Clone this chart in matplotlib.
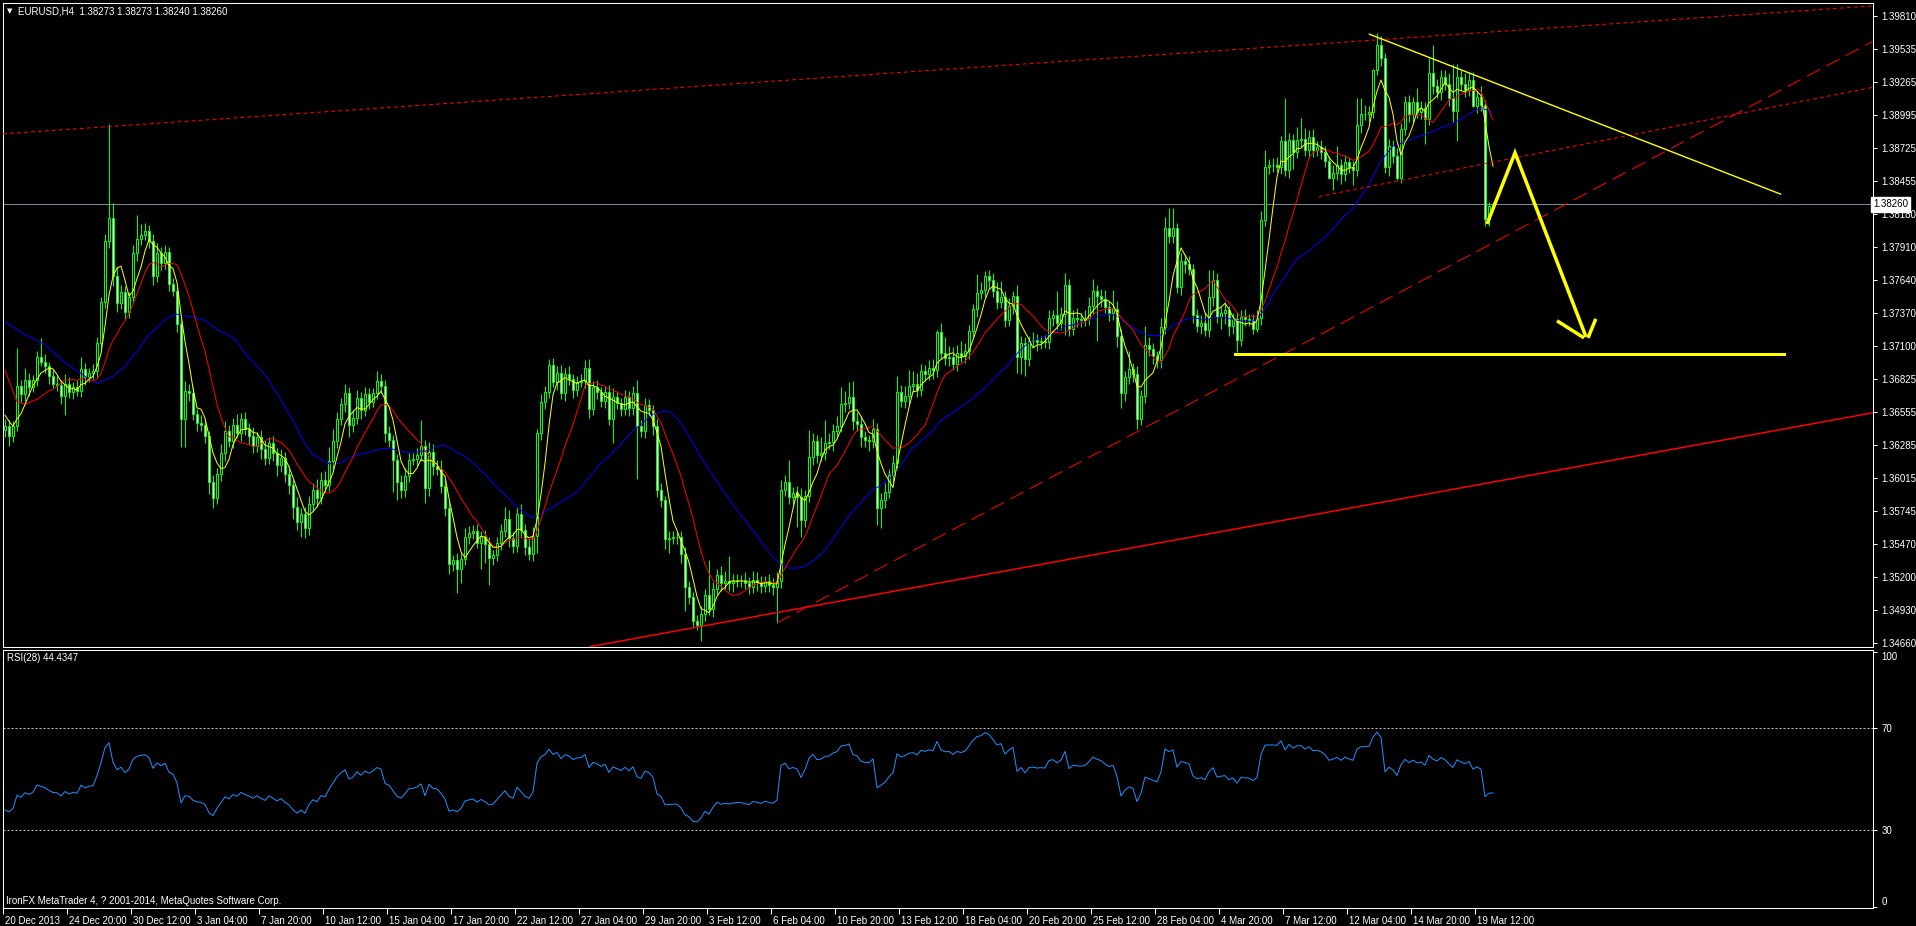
import numpy as np
import pandas as pd
import matplotlib
matplotlib.use("Agg")
import matplotlib.pyplot as plt
import matplotlib.transforms as mtransforms

# EURUSD H4 closes, in pips above 1.3400 (one value per bar)
closes = [
    244, 236, 244, 277, 270, 282, 276, 282, 301, 297,
    293, 285, 279, 278, 269, 279, 272, 276, 273, 291,
    284, 288, 289, 312, 346, 396, 415, 367, 345, 354,
    338, 350, 386, 398, 401, 404, 396, 367, 386, 378,
    387, 361, 355, 328, 250, 273, 271, 254, 247, 245,
    236, 198, 185, 205, 222, 240, 232, 245, 238, 250,
    242, 236, 228, 235, 225, 218, 230, 222, 212, 218,
    205, 196, 178, 165, 172, 160, 180, 192, 185, 200,
    196, 215, 232, 250, 262, 271, 245, 251, 267, 257,
    270, 264, 271, 281, 277, 238, 233, 216, 198, 192,
    203, 216, 217, 220, 228, 193, 223, 211, 209, 195,
    177, 131, 134, 127, 135, 153, 156, 158, 148, 154,
    147, 136, 138, 148, 158, 168, 152, 146, 172, 159,
    145, 139, 154, 238, 264, 272, 294, 280, 288, 271,
    287, 283, 274, 280, 281, 292, 258, 276, 272, 265,
    272, 250, 268, 263, 258, 268, 259, 271, 244, 240,
    261, 257, 244, 192, 183, 151, 152, 153, 153, 139,
    112, 104, 84, 81, 90, 105, 94, 110, 122, 115,
    117, 115, 117, 118, 118, 115, 112, 118, 116, 113,
    117, 114, 112, 117, 192, 198, 186, 189, 186, 167,
    187, 219, 232, 220, 222, 230, 231, 240, 244, 262,
    263, 268, 248, 246, 235, 233, 232, 242, 177, 183,
    190, 204, 214, 272, 265, 269, 277, 279, 274, 289,
    287, 292, 290, 321, 304, 300, 301, 295, 304, 302,
    306, 322, 340, 353, 356, 367, 364, 355, 346, 350,
    331, 343, 351, 301, 312, 299, 314, 315, 313, 314,
    313, 333, 335, 329, 336, 360, 324, 333, 332, 331,
    333, 343, 355, 351, 348, 342, 337, 340, 318, 271,
    284, 291, 287, 250, 269, 311, 307, 302, 298, 325,
    407, 400, 407, 358, 380, 377, 373, 335, 326, 329,
    323, 350, 364, 334, 337, 339, 326, 332, 315, 334,
    332, 331, 324, 333, 413, 457, 458, 458, 457, 478,
    454, 479, 469, 479, 480, 471, 481, 471, 473, 469,
    462, 448, 452, 458, 451, 461, 457, 454, 491, 500,
    500, 502, 536, 557, 546, 457, 474, 466, 448, 488,
    510, 500, 510, 502, 505, 496, 534, 523, 518, 531,
    525, 513, 503, 531, 525, 520, 528, 507, 514, 508,
    414, 425, 426,
]
# wick lengths in pips above / below the body
upper_wick = [
    6, 5, 4, 31, 5, 10, 6, 4, 5, 15,
    6, 4, 5, 6, 4, 8, 5, 4, 6, 10,
    5, 4, 6, 5, 4, 6, 77, 12, 8, 6,
    5, 4, 7, 19, 9, 7, 5, 6, 8, 5,
    6, 4, 5, 6, 5, 8, 6, 5, 4, 6,
    5, 4, 6, 5, 7, 8, 5, 6, 9, 5,
    6, 5, 7, 4, 6, 8, 5, 6, 4, 7,
    5, 6, 4, 8, 5, 6, 7, 5, 9, 6,
    7, 12, 10, 6, 5, 8, 5, 6, 7, 5,
    6, 5, 4, 8, 6, 5, 6, 4, 5, 6,
    7, 6, 5, 6, 21, 5, 8, 6, 5, 7,
    6, 5, 4, 6, 5, 7, 6, 5, 6, 4,
    5, 6, 4, 5, 6, 10, 7, 5, 6, 8,
    5, 6, 7, 4, 6, 5, 5, 6, 5, 6,
    5, 6, 4, 5, 6, 6, 7, 5, 6, 4,
    5, 6, 7, 5, 4, 6, 5, 6, 11, 5,
    6, 5, 4, 6, 5, 4, 6, 5, 4, 5,
    6, 5, 4, 5, 6, 5, 29, 6, 5, 7,
    8, 20, 6, 5, 4, 6, 5, 7, 6, 5,
    4, 6, 5, 7, 8, 6, 18, 5, 6, 7,
    5, 22, 6, 5, 13, 19, 7, 6, 8, 14,
    10, 12, 13, 8, 6, 5, 4, 8, 5, 6,
    7, 5, 6, 13, 6, 8, 13, 10, 9, 6,
    5, 6, 7, 2, 8, 13, 9, 8, 7, 10,
    6, 5, 4, 16, 6, 4, 5, 6, 7, 13,
    5, 6, 4, 9, 6, 5, 4, 6, 5, 4,
    5, 6, 4, 20, 6, 10, 5, 6, 8, 5,
    6, 7, 10, 5, 6, 8, 5, 16, 7, 6,
    5, 15, 5, 6, 5, 15, 6, 5, 4, 8,
    9, 16, 16, 4, 6, 5, 7, 4, 5, 6,
    8, 22, 8, 6, 5, 7, 4, 5, 6, 5,
    6, 4, 5, 6, 8, 14, 5, 6, 7, 4,
    35, 6, 5, 11, 17, 9, 6, 7, 5, 6,
    5, 4, 6, 16, 5, 6, 4, 5, 22, 13,
    8, 5, 1, 10, 7, 4, 6, 5, 6, 5,
    5, 6, 4, 12, 6, 5, 12, 23, 6, 5,
    5, 9, 28, 10, 5, 9, 6, 7, 5, 9,
    4, 3, 2,
]
lower_wick = [
    6, 8, 5, 4, 6, 5, 7, 4, 5, 4,
    5, 6, 4, 5, 7, 16, 5, 6, 4, 5,
    6, 4, 5, 5, 6, 5, 6, 8, 7, 5,
    6, 5, 4, 6, 5, 4, 6, 7, 5, 6,
    5, 6, 4, 7, 23, 23, 6, 5, 7, 5,
    6, 10, 8, 5, 6, 7, 5, 6, 4, 6,
    5, 7, 6, 5, 8, 6, 5, 7, 9, 6,
    7, 8, 10, 6, 12, 8, 5, 6, 7, 5,
    6, 5, 7, 6, 5, 6, 10, 6, 5, 7,
    5, 6, 4, 5, 6, 7, 6, 26, 15, 7,
    6, 5, 4, 6, 5, 12, 6, 7, 5, 6,
    7, 8, 6, 20, 12, 5, 6, 5, 4, 21,
    15, 22, 6, 5, 6, 5, 7, 6, 5, 6,
    7, 5, 6, 14, 5, 6, 5, 4, 6, 5,
    6, 5, 7, 5, 4, 6, 7, 5, 6, 5,
    6, 5, 20, 5, 6, 5, 7, 6, 43, 5,
    6, 5, 7, 6, 5, 8, 11, 5, 6, 7,
    20, 6, 5, 4, 13, 6, 5, 7, 5, 6,
    5, 6, 7, 5, 6, 5, 6, 5, 7, 6,
    5, 6, 7, 30, 6, 5, 6, 8, 25, 14,
    6, 5, 7, 6, 5, 6, 5, 7, 6, 5,
    6, 5, 7, 6, 8, 6, 8, 6, 14, 17,
    6, 5, 7, 6, 5, 6, 7, 5, 6, 5,
    6, 5, 7, 6, 5, 6, 7, 5, 6, 5,
    6, 7, 5, 6, 5, 6, 7, 5, 6, 5,
    6, 5, 7, 13, 14, 14, 6, 5, 7, 6,
    5, 6, 7, 5, 6, 17, 6, 5, 7, 6,
    5, 6, 7, 37, 6, 5, 7, 6, 9, 12,
    6, 5, 7, 8, 5, 6, 5, 7, 6, 6,
    5, 6, 6, 5, 6, 7, 5, 6, 5, 6,
    5, 6, 7, 5, 10, 9, 8, 6, 10, 5,
    6, 5, 4, 3, 6, 5, 6, 5, 4, 6,
    5, 6, 14, 5, 6, 5, 7, 6, 5, 6,
    5, 1, 10, 6, 8, 6, 5, 12, 5, 6,
    5, 6, 5, 4, 6, 5, 8, 6, 2, 4,
    5, 6, 7, 5, 6, 20, 5, 6, 5, 6,
    5, 6, 9, 25, 5, 6, 5, 1, 6, 5,
    6, 6, 3,
]

# moving average values read at the left edge (before enough bars exist)
yellow_head_bars = [0, 1, 2, 3]
yellow_head = [253, 248, 244, 250]
red_head_bars = [0, 3, 5, 8, 11]
red_head = [290, 264, 262, 266, 273]
blue_head_bars = [0, 5, 10, 15, 20, 23, 27, 30, 32]
blue_head = [330, 319, 311, 296, 285, 279, 285, 293, 302]
rsi_start = 38

time_labels = ["20 Dec 2013", "24 Dec 20:00", "30 Dec 12:00", "3 Jan 04:00", "7 Jan 20:00",
               "10 Jan 12:00", "15 Jan 04:00", "17 Jan 20:00", "22 Jan 12:00", "27 Jan 04:00",
               "29 Jan 20:00", "3 Feb 12:00", "6 Feb 04:00", "10 Feb 20:00", "13 Feb 12:00",
               "18 Feb 04:00", "20 Feb 20:00", "25 Feb 12:00", "28 Feb 04:00", "4 Mar 20:00",
               "7 Mar 12:00", "12 Mar 04:00", "14 Mar 20:00", "19 Mar 12:00"]
price_labels = ["1.39810", "1.39535", "1.39265", "1.38995", "1.38725", "1.38455", "1.38180",
                "1.37910", "1.37640", "1.37370", "1.37100", "1.36825", "1.36555", "1.36285",
                "1.36015", "1.35745", "1.35470", "1.35200", "1.34930", "1.34660"]
last_price = 1.38260

# chart objects: (bar index, pips) anchor pairs
top_channel = ([-0.5, 467], [484, 589])
upper_dotted = ([328.4, 467], [432.5, 522.2])
rising_dashed = ([193, 467], [82.5, 560])
support_line = ([146.25, 467], [63, 255])
falling_yellow = ([341.1, 443.9], [565.8, 434.5])
target_level = ([307.5, 444.75], [303.1, 303.1])
zigzag = ([370.5, 377.5, 395.25], [410, 468.4, 317.3])
arrow_left = ([388, 394.75], [330.5, 316.5])
arrow_right = ([397.7, 395.75], [332.1, 316.5])


def px(p):
    return 1.34 + np.asarray(p, dtype=float) / 10000.0


LIME = "#00ff00"
PX = 0.72  # one pixel in points at dpi 100
plt.rcParams["font.family"] = ["Liberation Sans", "DejaVu Sans"]

c = px(closes)
n = len(c)
idx = np.arange(n)
o = np.concatenate([[c[0] - 0.0003], c[:-1]])
hi = np.maximum(o, c) + np.array(upper_wick) / 10000.0
lo = np.minimum(o, c) - np.array(lower_wick) / 10000.0

s = pd.Series(c)


def ma_line(period, head_bars, head_vals):
    sma = s.rolling(period).mean().to_numpy()
    xs = list(head_bars) + list(range(period - 1, n))
    ys = list(px(head_vals)) + list(sma[period - 1:])
    return xs, ys


# RSI(28), Wilder smoothing
d = np.diff(c)
move = np.mean(np.abs(d[:28]))
ag, al = move * rsi_start / 100, move * (1 - rsi_start / 100)
rsi = [rsi_start]
for ch in d:
    ag = (ag * 27 + max(ch, 0)) / 28
    al = (al * 27 + max(-ch, 0)) / 28
    rsi.append(100 * ag / (ag + al))

fig = plt.figure(figsize=(19.16, 9.26), dpi=100, facecolor="black")
ax = fig.add_axes([3 / 1916, 1 - 647 / 926, 1870 / 1916, 644 / 926])
ax2 = fig.add_axes([3 / 1916, 1 - 908 / 926, 1870 / 1916, 258 / 926])

for a in (ax, ax2):
    a.set_facecolor("black")
    a.set_xlim(-0.5, 467)
    for sp in a.spines.values():
        sp.set_color("white")
        sp.set_linewidth(PX)

ax.set_ylim(1.34627, 1.39914)

# candles
ax.vlines(idx, lo, hi, color=LIME, lw=PX, zorder=2)
fills = np.where(c >= o, "black", "white")
ax.bar(idx, np.abs(c - o), bottom=np.minimum(o, c), width=0.5, color=fills,
       edgecolor=LIME, linewidth=PX, zorder=3)

# moving averages
for period, hb, hv, col in [(34, blue_head_bars, blue_head, "#0000ff"),
                            (13, red_head_bars, red_head, "#ff0000"),
                            (5, yellow_head_bars, yellow_head, "#ffff00")]:
    xs, ys = ma_line(period, hb, hv)
    ax.plot(xs, ys, color=col, lw=PX, zorder=4)

# current price line
ax.axhline(last_price, color="#778899", lw=PX, zorder=1)

# trend lines and drawings
ax.plot(top_channel[0], px(top_channel[1]), color="red", lw=PX, ls=(0, (4, 3)), zorder=5)
ax.plot(upper_dotted[0], px(upper_dotted[1]), color="red", lw=PX, ls=(0, (4, 3)), zorder=5)
ax.plot(rising_dashed[0], px(rising_dashed[1]), color="red", lw=PX, ls=(0, (15, 7)), zorder=5)
ax.plot(support_line[0], px(support_line[1]), color="red", lw=1.5 * PX, zorder=5)
ax.plot(falling_yellow[0], px(falling_yellow[1]), color="#ffff00", lw=1.4 * PX, zorder=5)
ax.plot(target_level[0], px(target_level[1]), color="#ffff00", lw=3 * PX, zorder=5)
for seg in (zigzag, arrow_left, arrow_right):
    ax.plot(seg[0], px(seg[1]), color="#ffff00", lw=3.5 * PX, zorder=6,
            solid_capstyle="butt", solid_joinstyle="miter")

# price scale on the right
ax.set_xticks([])
ax.yaxis.tick_right()
ax.set_yticks([float(p) for p in price_labels])
ax.set_yticklabels(price_labels)
ax.tick_params(axis="y", colors="white", length=3, width=PX, pad=3, labelsize=7)
box_tf = mtransforms.blended_transform_factory(ax.transAxes, ax.transData)
ax.text(1.0, last_price, f"{last_price:.5f}", transform=box_tf, ha="left", va="center",
        fontsize=7, color="black", zorder=10, clip_on=False,
        bbox=dict(boxstyle="square,pad=0.22", fc="white", ec="white"))

# RSI window
ax2.set_ylim(-0.47, 100.7)
ax2.plot(idx, rsi, color="#1e90ff", lw=PX)
for lvl in (70, 30):
    ax2.axhline(lvl, color="#c0c0c0", lw=PX, ls=(0, (2, 2)))
ax2.yaxis.tick_right()
ax2.set_yticks([100, 70, 30, 0])
ax2.set_yticklabels(["100", "70", "30", "0"])
ax2.tick_params(axis="y", colors="white", length=3, width=PX, pad=3, labelsize=7)
ylab = ax2.get_yticklabels()
ylab[0].set_va("top")
ylab[3].set_va("bottom")

tick_pos = [16 * k - 0.5 for k in range(len(time_labels))]
ax2.set_xticks(tick_pos)
ax2.set_xticklabels(time_labels, ha="left")
ax2.tick_params(axis="x", colors="white", length=4, width=PX, pad=2, labelsize=7)
shift = mtransforms.ScaledTranslation(2 / 100, 0, fig.dpi_scale_trans)
for lab in ax2.get_xticklabels():
    lab.set_transform(lab.get_transform() + shift)

# captions
fig.text(7 / 1916, 1 - 11 / 926, "\u25bc", color="white", fontsize=5, va="center",
         family="DejaVu Sans")
fig.text(18 / 1916, 1 - 11 / 926, "EURUSD,H4  1.38273 1.38273 1.38240 1.38260",
         color="white", fontsize=7, va="center")
fig.text(7 / 1916, 1 - 658 / 926, "RSI(28) 44.4347", color="white", fontsize=7, va="center")
fig.text(6 / 1916, 1 - 901 / 926, "IronFX MetaTrader 4, ? 2001-2014, MetaQuotes Software Corp.",
         color="white", fontsize=7, va="center")

fig.savefig("out.png", dpi=100, facecolor="black")
